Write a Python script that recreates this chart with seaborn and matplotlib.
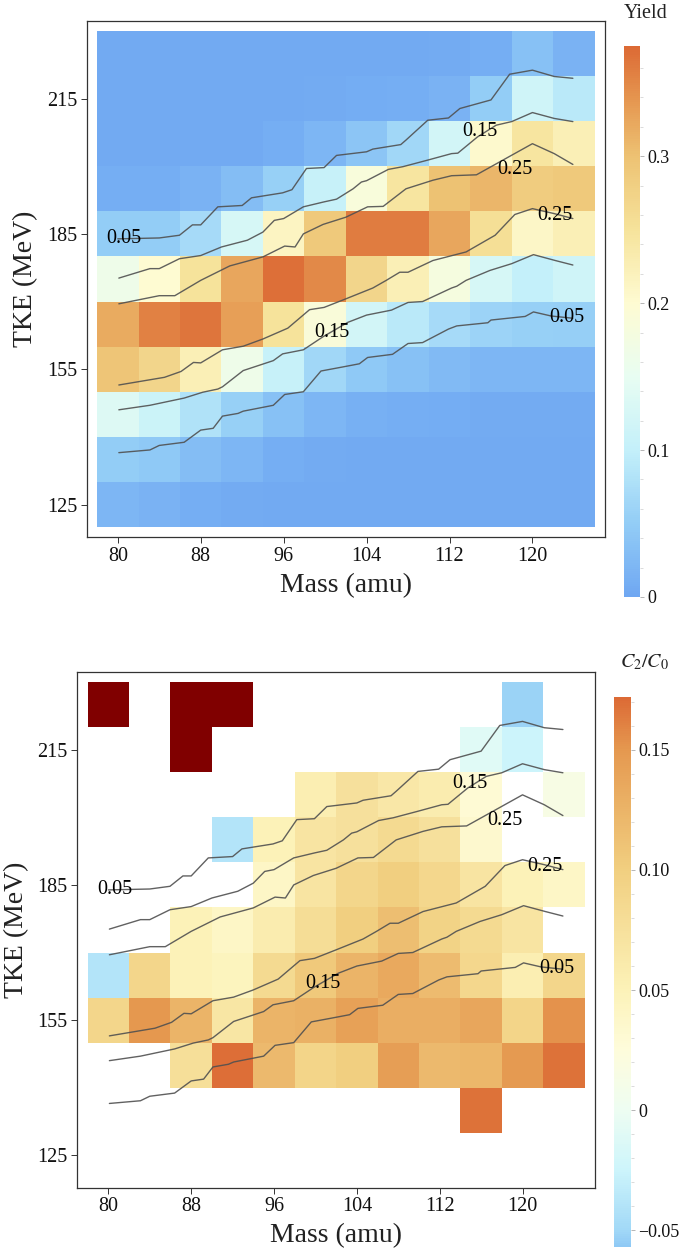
import numpy as np
import pandas as pd
import matplotlib
matplotlib.use("Agg")
import matplotlib.pyplot as plt
import seaborn as sns
from matplotlib.colors import LinearSegmentedColormap
from matplotlib.ticker import MultipleLocator

# ---------------- data ----------------
mass_centers = [80, 84, 88, 92, 96, 100, 104, 108, 112, 116, 120, 124]
tke_centers = [225, 215, 205, 195, 185, 175, 165, 155, 145, 135, 125]
mass_ticks = [80, 88, 96, 104, 112, 120]
tke_ticks = [125, 155, 185, 215]

# Yield, one list per TKE row (top to bottom)
yield_225 = [0.005, 0.005, 0.005, 0.005, 0.005, 0.005, 0.005, 0.005, 0.006, 0.010, 0.035, 0.015]
yield_215 = [0.005, 0.005, 0.005, 0.005, 0.005, 0.007, 0.008, 0.010, 0.015, 0.050, 0.115, 0.090]
yield_205 = [0.005, 0.005, 0.005, 0.005, 0.010, 0.020, 0.040, 0.065, 0.120, 0.205, 0.245, 0.225]
yield_195 = [0.010, 0.010, 0.015, 0.030, 0.055, 0.105, 0.185, 0.245, 0.300, 0.310, 0.285, 0.290]
yield_185 = [0.050, 0.050, 0.070, 0.125, 0.215, 0.290, 0.360, 0.360, 0.325, 0.255, 0.210, 0.225]
yield_175 = [0.165, 0.200, 0.250, 0.325, 0.370, 0.350, 0.270, 0.225, 0.180, 0.125, 0.100, 0.115]
yield_165 = [0.320, 0.355, 0.365, 0.330, 0.250, 0.190, 0.120, 0.090, 0.070, 0.060, 0.055, 0.053]
yield_155 = [0.295, 0.270, 0.225, 0.165, 0.105, 0.065, 0.045, 0.035, 0.025, 0.020, 0.020, 0.020]
yield_145 = [0.135, 0.110, 0.080, 0.055, 0.035, 0.020, 0.012, 0.010, 0.008, 0.007, 0.007, 0.007]
yield_135 = [0.050, 0.045, 0.030, 0.020, 0.010, 0.007, 0.005, 0.005, 0.005, 0.005, 0.005, 0.005]
yield_125 = [0.020, 0.015, 0.010, 0.007, 0.005, 0.005, 0.005, 0.005, 0.005, 0.005, 0.005, 0.005]

# C2/C0, one list per TKE row (nan = no data, 0.30 = above colour range)
nan = np.nan
c2_225 = [0.30, nan, 0.30, 0.30, nan, nan, nan, nan, nan, nan, -0.052, nan]
c2_215 = [nan, nan, 0.30, nan, nan, nan, nan, nan, nan, -0.010, -0.025, nan]
c2_205 = [nan, nan, nan, nan, nan, 0.055, 0.075, 0.065, 0.058, 0.030, nan, 0.015]
c2_195 = [nan, nan, nan, -0.040, 0.050, 0.070, 0.075, 0.085, 0.075, 0.035, nan, nan]
c2_185 = [nan, nan, nan, nan, 0.040, 0.070, 0.090, 0.100, 0.088, 0.070, 0.050, 0.040]
c2_175 = [nan, nan, 0.050, 0.040, 0.058, 0.080, 0.100, 0.115, 0.095, 0.085, 0.070, nan]
c2_165 = [-0.040, 0.090, 0.050, 0.045, 0.085, 0.105, 0.125, 0.135, 0.118, 0.088, 0.055, 0.090]
c2_155 = [0.090, 0.150, 0.125, 0.068, 0.125, 0.128, 0.142, 0.130, 0.130, 0.138, 0.092, 0.153]
c2_145 = [nan, nan, 0.078, 0.170, 0.120, 0.092, 0.100, 0.145, 0.120, 0.122, 0.148, 0.168]
c2_135 = [nan, nan, nan, nan, nan, nan, nan, nan, nan, 0.168, nan, nan]
c2_125 = [nan] * 12

# Contour lines of the yield (mass, TKE)
c05_hi_mass = [80.0, 84.0, 85.95, 87.2, 88.0, 89.65, 92.0, 92.9, 95.9, 96.8, 98.2, 99.9, 101.1, 104.0,
               104.6, 107.3, 107.8, 109.9, 111.9, 113.0, 116.0, 117.8, 120.0, 122.1, 123.9]
c05_hi_tke = [183.9, 184.1, 184.7, 187.0, 187.0, 191.0, 191.3, 193.0, 194.1, 194.8, 199.5, 199.7, 202.4, 203.2,
              203.8, 204.8, 205.8, 210.2, 210.7, 212.8, 214.7, 220.4, 221.3, 219.9, 219.5]
c15_hi_mass = [80.1, 83.1, 84.0, 85.95, 88.0, 90.0, 92.5, 94.0, 95.1, 96.0, 97.9, 99.9, 101.1, 102.7,
               103.5, 104.0, 106.1, 107.5, 109.8, 112.2, 112.8, 114.7, 116.5, 118.0, 120.0, 122.1, 123.9]
c15_hi_tke = [175.2, 177.3, 177.3, 179.5, 180.2, 182.1, 183.6, 185.4, 188.0, 188.4, 191.0, 192.1, 192.7, 195.0,
              196.5, 196.8, 199.3, 199.9, 201.3, 202.8, 202.9, 206.5, 209.1, 209.9, 211.9, 210.6, 209.9]
c25_hi_mass = [80.1, 84.0, 85.5, 88.0, 90.8, 94.0, 96.1, 97.1, 97.9, 99.8, 102.0, 104.1, 105.6, 107.8,
               110.4, 112.2, 114.6, 116.4, 120.0, 122.1, 123.9]
c25_hi_tke = [169.5, 171.3, 171.3, 174.7, 177.9, 179.9, 182.3, 182.1, 185.0, 187.1, 188.7, 191.0, 191.1, 195.0,
              196.9, 197.9, 198.1, 200.4, 205.0, 202.8, 200.4]
c25_lo_mass = [80.1, 84.5, 86.1, 87.3, 88.0, 90.1, 92.1, 94.0, 96.4, 98.5, 99.9, 102.0, 104.6, 105.9,
               107.2, 108.0, 110.4, 113.6, 116.4, 118.3, 120.0, 122.1, 123.9]
c25_lo_tke = [151.5, 153.2, 154.5, 156.5, 156.4, 159.3, 160.1, 161.7, 164.1, 168.2, 168.7, 170.6, 173.0, 174.7,
              176.5, 176.5, 179.1, 181.0, 184.7, 189.3, 190.6, 189.5, 188.4]
c15_lo_mass = [80.1, 83.1, 86.4, 88.2, 89.65, 90.1, 92.1, 95.0, 95.9, 97.9, 99.8, 102.2, 104.0, 106.4,
               108.0, 109.4, 112.2, 112.7, 113.6, 115.9, 118.0, 120.1, 122.2, 123.9]
c15_lo_tke = [146.0, 147.0, 148.6, 149.9, 150.6, 151.1, 154.7, 156.9, 158.4, 159.3, 162.2, 165.4, 167.0, 168.1,
              169.8, 170.0, 173.0, 173.4, 174.7, 176.9, 178.4, 180.4, 179.1, 178.1]
c05_lo_mass = [80.1, 83.1, 84.0, 86.4, 88.0, 89.2, 90.1, 91.6, 92.1, 95.0, 96.1, 97.9, 99.6, 101.7,
               103.3, 104.1, 106.5, 108.0, 109.4, 111.9, 112.7, 115.7, 116.0, 119.3, 120.1, 121.8, 123.9]
c05_lo_tke = [136.5, 137.1, 138.1, 138.8, 141.5, 141.9, 144.6, 145.2, 145.7, 147.0, 149.4, 150.0, 154.6, 155.5,
              156.2, 157.6, 158.3, 160.7, 160.9, 163.9, 164.6, 165.3, 165.9, 166.7, 167.7, 166.8, 166.3]

label_text = ["0.05", "0.15", "0.25", "0.25", "0.15", "0.05"]
label_mass = [80.6, 114.9, 118.3, 122.2, 100.7, 123.3]
label_tke = [183.9, 207.6, 199.3, 189.1, 163.2, 166.5]

# colour maps (value nodes and colours)
yield_nodes = [0.0, 0.05, 0.10, 0.15, 0.20, 0.25, 0.30, 0.34, 0.375]
yield_cols = ['#6FA7F2', '#93CDF6', '#C4F0FA', '#E8FDF2', '#FEFBD2', '#F6E39B', '#EDC273', '#E5954F', '#DC6A35']
c2_nodes = [-0.057, -0.05, -0.025, 0.0, 0.025, 0.05, 0.10, 0.15, 0.172]
c2_cols = ['#8FC9F5', '#A2D9F7', '#CDF5FB', '#EEFDF2', '#FEFCDB', '#FCF2B8', '#F1CF80', '#E59950', '#DC6A35']

# ---------------- style ----------------
sns.set_theme(style="white")
plt.rcParams['font.family'] = ['Liberation Serif', 'DejaVu Serif']
plt.rcParams['mathtext.fontset'] = 'stix'
plt.rcParams['axes.unicode_minus'] = True


def make_cmap(nodes, cols):
    lo, hi = nodes[0], nodes[-1]
    pos = [(v - lo) / (hi - lo) for v in nodes]
    return LinearSegmentedColormap.from_list("c", list(zip(pos, cols)))


yield_grid = pd.DataFrame([yield_225, yield_215, yield_205, yield_195, yield_185, yield_175,
                           yield_165, yield_155, yield_145, yield_135, yield_125],
                          index=tke_centers, columns=mass_centers)
c2_grid = pd.DataFrame([c2_225, c2_215, c2_205, c2_195, c2_185, c2_175,
                        c2_165, c2_155, c2_145, c2_135, c2_125],
                       index=tke_centers, columns=mass_centers)

dm = mass_centers[1] - mass_centers[0]
dt = tke_centers[0] - tke_centers[1]


def mx(m):
    return (np.asarray(m, float) - mass_centers[0]) / dm + 0.5


def ty(t):
    return (tke_centers[0] - np.asarray(t, float)) / dt + 0.5


lines = [(c05_hi_mass, c05_hi_tke), (c15_hi_mass, c15_hi_tke), (c25_hi_mass, c25_hi_tke),
         (c25_lo_mass, c25_lo_tke), (c15_lo_mass, c15_lo_tke), (c05_lo_mass, c05_lo_tke)]

W, H = 680, 1251
fig = plt.figure(figsize=(W / 100, H / 100), dpi=100)


def fr(x0, y0, x1, y1):
    return [x0 / W, 1 - y1 / H, (x1 - x0) / W, (y1 - y0) / H]


def panel(ax_rect, cax_rect, grid, nodes, cols, ticks, ticklabels, minor, title, title_xy, over=None):
    ax = fig.add_axes(fr(*ax_rect))
    cax = fig.add_axes(fr(*cax_rect))
    cmap = make_cmap(nodes, cols)
    if over:
        cmap.set_over(over)
    sns.heatmap(grid, ax=ax, cmap=cmap, vmin=nodes[0], vmax=nodes[-1], cbar_ax=cax,
                xticklabels=False, yticklabels=False, linewidths=0)
    ax.set_xlim(mx(77), mx(127))
    ax.set_ylim(ty(117.8), ty(232.2))
    for s in ax.spines.values():
        s.set_visible(True)
        s.set_color('#333333')
        s.set_linewidth(0.9)
    ax.set_xticks(mx(mass_ticks))
    ax.set_xticklabels([str(v) for v in mass_ticks])
    ax.set_yticks(ty(tke_ticks))
    ax.set_yticklabels([str(v) for v in tke_ticks], rotation=0)
    ax.tick_params(axis='both', which='both', direction='out', length=4, width=0.7,
                   color='#333333', labelsize=14.5, bottom=True, left=True, top=False, right=False,
                   pad=3, labelcolor='#111111')
    ax.set_xlabel("Mass (amu)", fontsize=20, labelpad=5, color='#222222')
    ax.set_ylabel("TKE (MeV)", fontsize=20, labelpad=6, color='#222222')
    for xm, yt in lines:
        ax.plot(mx(xm), ty(yt), color='#505050', lw=1.0, alpha=0.9, solid_joinstyle='round')
    for t, lm, lt in zip(label_text, label_mass, label_tke):
        ax.text(mx(lm), ty(lt), t, ha='center', va='center', fontsize=14.5, color='black')
    cb = ax.collections[0].colorbar
    cb.outline.set_visible(False)
    cb.set_ticks(ticks)
    cb.set_ticklabels(ticklabels)
    cb.ax.yaxis.set_minor_locator(MultipleLocator(minor))
    cb.ax.tick_params(which='major', length=3, width=0.6, color='#aaaaaa', labelsize=13,
                      pad=2, labelcolor='#111111')
    cb.ax.tick_params(which='minor', length=2, width=0.5, color='#cccccc')
    fig.text(title_xy[0] / W, 1 - title_xy[1] / H, title, ha='center', va='center',
             fontsize=14.5, color='#222222')
    return ax


panel((86.7, 21, 605, 537), (624, 46, 640, 597), yield_grid, yield_nodes, yield_cols,
      [0, 0.1, 0.2, 0.3], ['0', '0.1', '0.2', '0.3'], 0.02, "Yield", (646, 13))
panel((77.3, 672.3, 595, 1187.7), (614, 697, 631, 1247), c2_grid, c2_nodes, c2_cols,
      [-0.05, 0, 0.05, 0.10, 0.15], ['\u22120.05', '0', '0.05', '0.10', '0.15'], 0.01,
      r"$C_2/C_0$", (645, 662), over='#800000')

fig.savefig("out.png", dpi=100)
